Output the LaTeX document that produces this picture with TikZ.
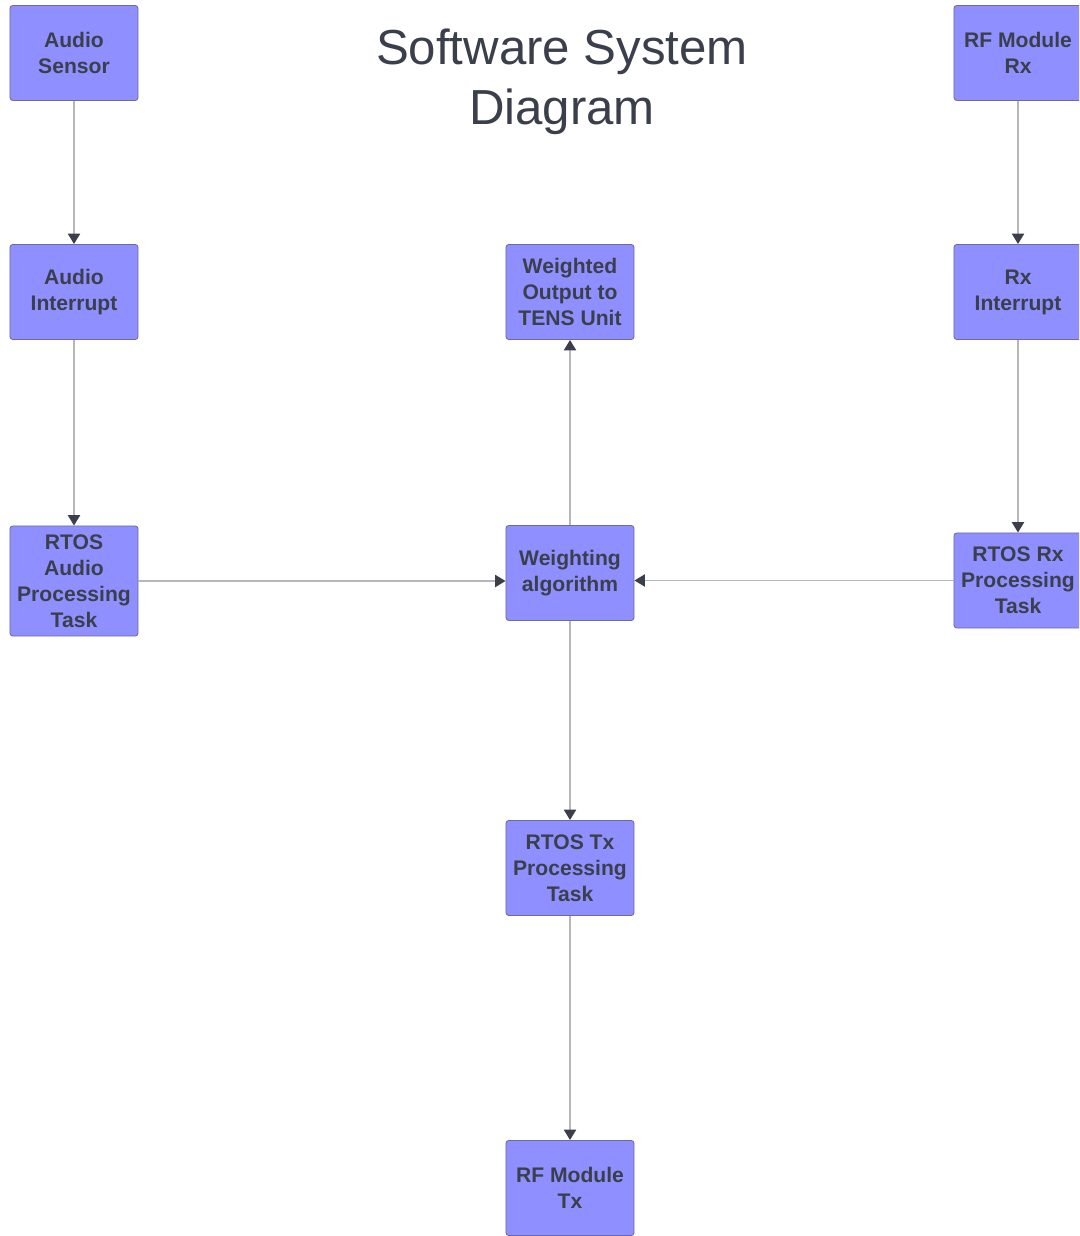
\documentclass[tikz,border=0pt]{standalone}
\usepackage{fontspec}
\setmainfont{Liberation Sans}
\usepackage{tikz}
\usetikzlibrary{arrows.meta,positioning,calc}
\usepackage{xcolor}
\definecolor{boxfill}{HTML}{8F8FFF}
\definecolor{boxline}{HTML}{6C6C9A}
\definecolor{txtgray}{HTML}{3A3F4B}
\definecolor{wiregray}{HTML}{B6B6BC}

\begin{document}
\begin{tikzpicture}[
    x=0.025cm, y=-0.025cm,
    block/.style={
      rectangle, rounded corners=2pt, draw=boxline, line width=0.6pt,
      fill=boxfill, minimum width=3.2cm, minimum height=2.375cm,
      font=\fontsize{15}{18.5}\selectfont\bfseries, text=txtgray,
      align=center, inner sep=1pt
    },
    tallblock/.style={
      block, minimum height=2.75cm
    },
    flow/.style={
      -{Triangle[length=0.26cm, width=0.3cm, color=txtgray]},
      line width=1.4pt, wiregray
    },
    heading/.style={
      font=\fontsize{35}{42.7}\selectfont, text=txtgray, align=center
    }
  ]
  \clip (0,0) rectangle (1079,1236);

  % --- title ---
  \node[heading] (title) at (562,82) {Software System\\Diagram};

  % --- audio column ---
  \node[block] (asensor) at (74,53) {Audio\\Sensor};
  \node[block] (aint) at (74,292) {Audio\\Interrupt};
  \node[tallblock] (atask) at (74,581) {RTOS\\Audio\\Processing\\Task};

  % --- centre column ---
  \node[block] (tens) at (570,292) {Weighted\\Output to\\TENS Unit};
  \node[block] (weight) at (570,573) {Weighting\\algorithm};
  \node[block] (txtask) at (570,868) {RTOS Tx\\Processing\\Task};
  \node[block] (rftx) at (570,1188) {RF Module\\Tx};

  % --- rx column ---
  \node[block] (rfrx) at (1018,53) {RF Module\\Rx};
  \node[block] (rxint) at (1018,292) {Rx\\Interrupt};
  \node[block] (rxtask) at (1018,580.5) {RTOS Rx\\Processing\\Task};

  % --- connectors ---
  \draw[flow] (asensor) -- (aint);
  \draw[flow] (aint) -- (atask);
  \draw[flow] (atask.east) -- (atask.east -| weight.west);
  \draw[flow] (rfrx) -- (rxint);
  \draw[flow] (rxint) -- (rxtask);
  \draw[flow] (rxtask.west) -- (rxtask.west -| weight.east);
  \draw[flow] (weight) -- (tens);
  \draw[flow] (weight) -- (txtask);
  \draw[flow] (txtask) -- (rftx);
\end{tikzpicture}
\end{document}
